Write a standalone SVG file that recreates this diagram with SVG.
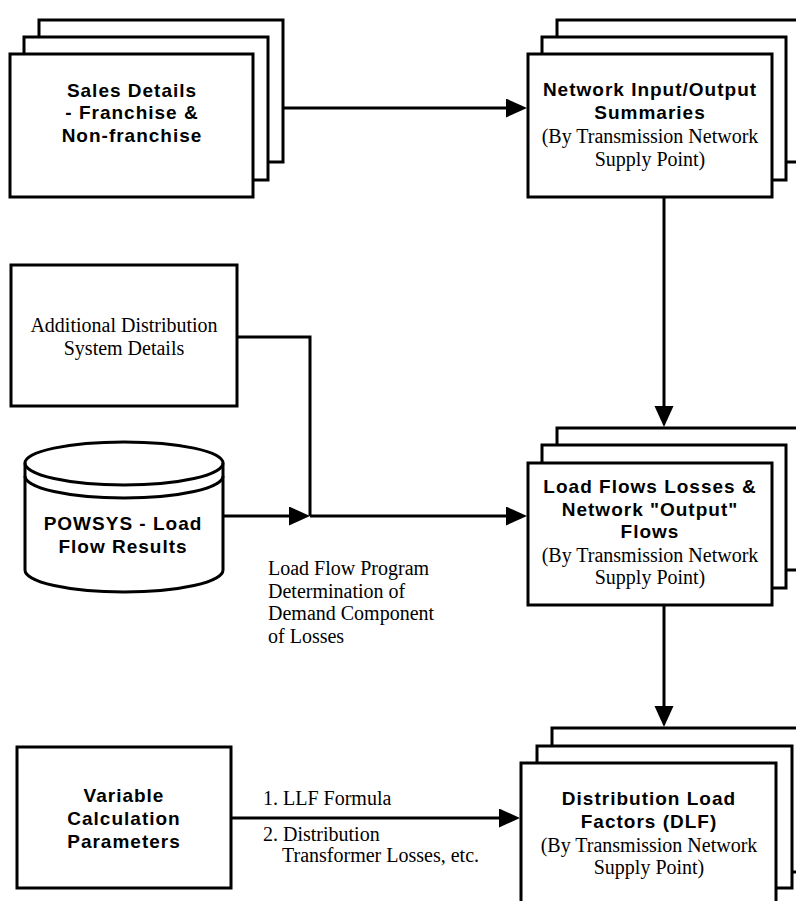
<svg xmlns="http://www.w3.org/2000/svg" width="796" height="901" viewBox="0 0 796 901">
<style>
.box{fill:#fff;stroke:#000;stroke-width:3}
.con{fill:none;stroke:#000;stroke-width:3}
.b{font-family:"Liberation Sans",Arial,sans-serif;font-weight:bold;font-size:19px;letter-spacing:1px;text-anchor:middle;fill:#000}
.s{font-family:"Liberation Serif","Times New Roman",serif;font-size:20px;text-anchor:middle;fill:#000}
.l{font-family:"Liberation Serif","Times New Roman",serif;font-size:20px;fill:#000}
</style>
<defs>
<marker id="arr" markerUnits="userSpaceOnUse" markerWidth="22" markerHeight="20" refX="11" refY="9.5" orient="auto">
<path d="M0,0 L21,9.5 L0,19 Z" fill="#000"/>
</marker>
</defs>
<rect width="796" height="901" fill="#fff"/>

<g id="sales">
<rect class="box" x="39" y="20" width="244" height="142"/>
<rect class="box" x="24" y="37" width="244" height="143"/>
<rect class="box" x="10" y="54" width="243" height="143"/>
<text class="b" x="132" y="97">Sales Details</text>
<text class="b" x="132" y="119">- Franchise &amp;</text>
<text class="b" x="132" y="142">Non-franchise</text>
</g>

<g id="network-io">
<rect class="box" x="557" y="20" width="244" height="142"/>
<rect class="box" x="542" y="37" width="244" height="143"/>
<rect class="box" x="528" y="54" width="244" height="143"/>
<text class="b" x="650" y="96">Network Input/Output</text>
<text class="b" x="650" y="119">Summaries</text>
<text class="s" x="650" y="143">(By Transmission Network</text>
<text class="s" x="650" y="166">Supply Point)</text>
</g>

<g id="additional">
<rect class="box" x="11" y="265" width="226" height="141"/>
<text class="s" x="124" y="332">Additional Distribution</text>
<text class="s" x="124" y="355">System Details</text>
</g>

<g id="powsys">
<path class="box" d="M25,463 A99,21 0 0 1 223,463 L223,570 A99,22 0 0 1 25,570 Z"/>
<path class="con" d="M25,463 A99,22 0 0 0 223,463"/>
<path class="con" d="M25,476 A99,22 0 0 0 223,476"/>
<text class="b" x="123" y="530">POWSYS - Load</text>
<text class="b" x="123" y="553">Flow Results</text>
</g>

<g id="load-flows">
<rect class="box" x="557" y="428" width="244" height="142"/>
<rect class="box" x="542" y="445" width="244" height="143"/>
<rect class="box" x="528" y="463" width="244" height="142"/>
<text class="b" x="650" y="493">Load Flows Losses &amp;</text>
<text class="b" x="650" y="516">Network "Output"</text>
<text class="b" x="650" y="538">Flows</text>
<text class="s" x="650" y="562">(By Transmission Network</text>
<text class="s" x="650" y="584">Supply Point)</text>
</g>

<g id="variable">
<rect class="box" x="17" y="747" width="214" height="141"/>
<text class="b" x="124" y="802">Variable</text>
<text class="b" x="124" y="825">Calculation</text>
<text class="b" x="124" y="848">Parameters</text>
</g>

<g id="dlf">
<rect class="box" x="552" y="728" width="255" height="144"/>
<rect class="box" x="537" y="746" width="255" height="142"/>
<rect class="box" x="521" y="763" width="255" height="150"/>
<text class="b" x="649" y="805">Distribution Load</text>
<text class="b" x="649" y="828">Factors (DLF)</text>
<text class="s" x="649" y="852">(By Transmission Network</text>
<text class="s" x="649" y="874">Supply Point)</text>
</g>

<g id="connectors">
<path class="con" d="M283,108 H517" marker-end="url(#arr)"/>
<path class="con" d="M664,197 V417" marker-end="url(#arr)"/>
<path class="con" d="M237,337 H310 V516"/>
<path class="con" d="M223,516 H300" marker-end="url(#arr)"/>
<path class="con" d="M310,516 H517" marker-end="url(#arr)"/>
<path class="con" d="M664,605 V717" marker-end="url(#arr)"/>
<path class="con" d="M231,818 H510" marker-end="url(#arr)"/>
</g>

<g id="labels">
<text class="l" x="268" y="575">Load Flow Program</text>
<text class="l" x="268" y="598">Determination of</text>
<text class="l" x="268" y="620">Demand Component</text>
<text class="l" x="268" y="643">of Losses</text>
<text class="l" x="263" y="805">1. LLF Formula</text>
<text class="l" x="263" y="841">2. Distribution</text>
<text class="l" x="282" y="862">Transformer Losses, etc.</text>
</g>
</svg>
